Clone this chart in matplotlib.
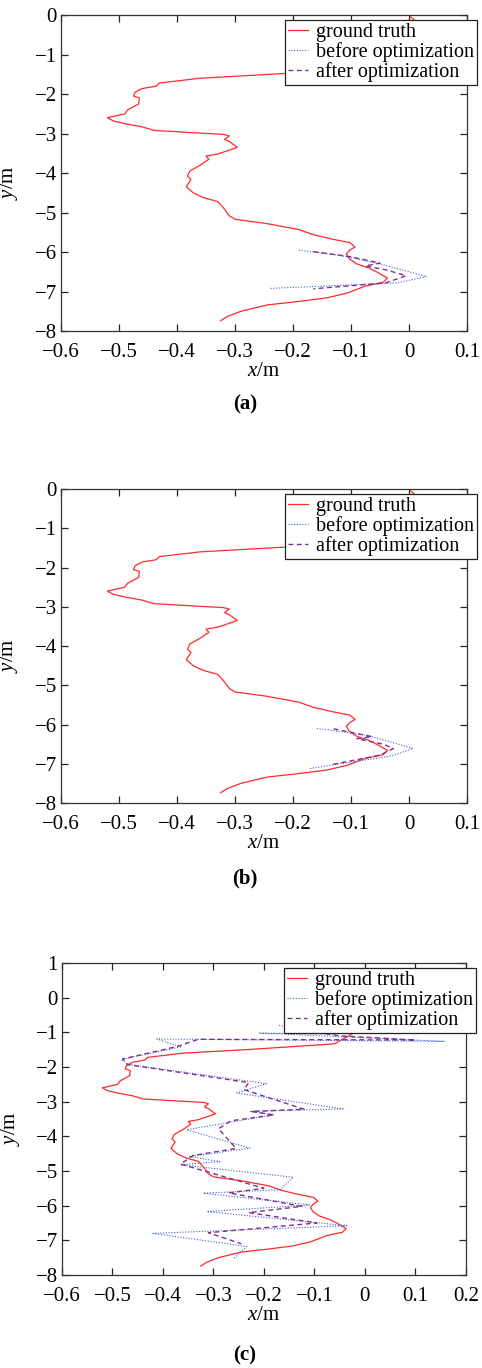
import numpy as np
import matplotlib
matplotlib.use('Agg')
import matplotlib.pyplot as plt
from matplotlib.ticker import FuncFormatter

plt.rcParams['font.family'] = ['Liberation Serif', 'DejaVu Serif']
plt.rcParams['mathtext.fontset'] = 'custom'
plt.rcParams['mathtext.rm'] = 'Liberation Serif'
plt.rcParams['mathtext.it'] = 'Liberation Serif:italic'

# ground truth (same in all three panels)
gt_x = [0.002, 0.02, 0.015, -0.02, -0.045, -0.06, -0.215, -0.36, -0.43, -0.436, -0.46, -0.472,
        -0.475, -0.465, -0.466, -0.485, -0.49, -0.52, -0.51, -0.49, -0.46, -0.44, -0.37, -0.32,
        -0.31, -0.318, -0.31, -0.296, -0.33, -0.35, -0.345, -0.36, -0.378, -0.382, -0.376, -0.384,
        -0.372, -0.355, -0.33, -0.32, -0.31, -0.3, -0.245, -0.19, -0.165, -0.13, -0.102, -0.093,
        -0.102, -0.108, -0.103, -0.09, -0.07, -0.056, -0.037, -0.045, -0.075, -0.107, -0.142,
        -0.19, -0.245, -0.29, -0.313, -0.325]
gt_y = [-0.04, -0.25, -0.6, -1.0, -1.2, -1.33, -1.48, -1.6, -1.72, -1.8, -1.86, -1.95,
        -2.05, -2.1, -2.25, -2.4, -2.5, -2.6, -2.68, -2.75, -2.83, -2.92, -2.98, -3.02,
        -3.06, -3.15, -3.2, -3.35, -3.52, -3.57, -3.65, -3.8, -3.95, -4.08, -4.16, -4.35,
        -4.5, -4.62, -4.72, -4.88, -5.08, -5.17, -5.28, -5.43, -5.56, -5.68, -5.76, -5.87,
        -5.95, -6.05, -6.17, -6.3, -6.4, -6.5, -6.66, -6.77, -6.86, -7.04, -7.16,
        -7.25, -7.34, -7.5, -7.63, -7.74]

# (a)
before_a_x = [-0.19, -0.12, -0.05, 0.03, -0.02, -0.24]
before_a_y = [-5.95, -6.08, -6.3, -6.62, -6.78, -6.92]
after_a_x = [-0.165, -0.1, -0.05, -0.075, -0.04, -0.005, -0.04, -0.165]
after_a_y = [-5.99, -6.12, -6.28, -6.35, -6.45, -6.6, -6.78, -6.93]

# (b)
before_b_x = [-0.159, -0.073, -0.03, 0.007, -0.03, -0.171]
before_b_y = [-6.1, -6.27, -6.45, -6.61, -6.8, -7.12]
after_b_x = [-0.13, -0.064, -0.09, -0.045, -0.027, -0.05, -0.136]
after_b_y = [-6.11, -6.31, -6.36, -6.5, -6.61, -6.78, -7.03]

# (c)
before_c_x = [-0.17, -0.06, -0.21, 0.158, -0.412, -0.365, -0.482, -0.47, -0.195, -0.254,
              -0.043, -0.228, -0.182, -0.353, -0.228, -0.347, -0.287, -0.366, -0.142, -0.168,
              -0.32, -0.109, -0.313, -0.036, -0.42, -0.234, -0.26]
before_c_y = [-0.8, -1.05, -1.02, -1.26, -1.19, -1.42, -1.78, -1.92, -2.48, -2.75,
              -3.21, -3.28, -3.38, -3.81, -4.34, -4.58, -4.73, -4.82, -5.18, -5.54,
              -5.64, -5.98, -6.17, -6.58, -6.8, -7.18, -7.52]
after_c_x = [-0.16, -0.05, 0.1, -0.33, -0.37, -0.48, -0.47, -0.23, -0.24, -0.12, -0.225,
             -0.18, -0.265, -0.29, -0.255, -0.34, -0.365, -0.2, -0.27, -0.125, -0.23, -0.095,
             -0.31, -0.245]
after_c_y = [-0.85, -1.1, -1.22, -1.2, -1.4, -1.77, -1.93, -2.45, -2.65, -3.22, -3.28,
             -3.38, -3.55, -3.78, -4.35, -4.55, -4.8, -5.5, -5.63, -6.02, -6.2, -6.5,
             -6.78, -7.1]

panels = [
    ('(a)', before_a_x, before_a_y, after_a_x, after_a_y, (-0.6, 0.1), (-8, 0)),
    ('(b)', before_b_x, before_b_y, after_b_x, after_b_y, (-0.6, 0.1), (-8, 0)),
    ('(c)', before_c_x, before_c_y, after_c_x, after_c_y, (-0.6, 0.2), (-8, 1)),
]

# axes boxes in figure fractions [left, bottom, width, height]
boxes = [[0.1266, 0.758, 0.8423, 0.231],
         [0.1266, 0.413, 0.8423, 0.2295],
         [0.1286, 0.068, 0.838, 0.228]]
caption_y = [0.704, 0.358, 0.009]


def tick_fmt(v, p):
    s = '%g' % (round(v, 2) + 0.0)
    if s == '-0':
        s = '0'
    return s.replace('-', '\u2212')


fmt = FuncFormatter(tick_fmt)

fig = plt.figure(figsize=(4.82, 13.68), dpi=100)
for i, (cap, bx, by, ax_, ay_, xl, yl) in enumerate(panels):
    ax = fig.add_axes(boxes[i])
    ax.plot(gt_x, gt_y, color='#ff2a2a', lw=0.9, label='ground truth')
    ax.plot(bx, by, color='#3d5fd0', lw=0.8, ls=(0, (1, 1.5)), label='before optimization')
    ax.plot(ax_, ay_, color='#7e2f8e', lw=1.0, ls=(0, (3.5, 2.5)), label='after optimization')
    ax.set_xlim(*xl)
    ax.set_ylim(*yl)
    ax.set_xticks(np.round(np.arange(xl[0], xl[1] + 0.01, 0.1), 2))
    ax.set_yticks(np.arange(yl[0], yl[1] + 0.5, 1))
    ax.xaxis.set_major_formatter(fmt)
    ax.yaxis.set_major_formatter(fmt)
    ax.tick_params(direction='in', top=True, right=True, length=5, width=0.9,
                   labelsize=15, color='#222222')
    ax.tick_params(axis='x', pad=8.5)
    ax.tick_params(axis='y', pad=3)
    for s in ax.spines.values():
        s.set_linewidth(0.9)
        s.set_color('#333333')
    ax.set_xlabel(r'$\it{x}$/m', fontsize=15, labelpad=0)
    ax.set_ylabel(r'$\it{y}$/m', fontsize=15)
    ax.yaxis.set_label_coords(-0.1, 0.47)
    leg = ax.legend(loc='upper right', bbox_to_anchor=(1.025, 0.984), borderaxespad=0,
                    fontsize=14.5, labelspacing=0.0, handlelength=1.0, handletextpad=0.4,
                    borderpad=0.15, fancybox=False, framealpha=1)
    leg.get_frame().set_edgecolor('#222222')
    leg.get_frame().set_linewidth(0.9)
    fig.text(0.508, caption_y[i], cap, ha='center', va='center', fontsize=15, fontweight='bold')

fig.savefig('out.png', dpi=100)
